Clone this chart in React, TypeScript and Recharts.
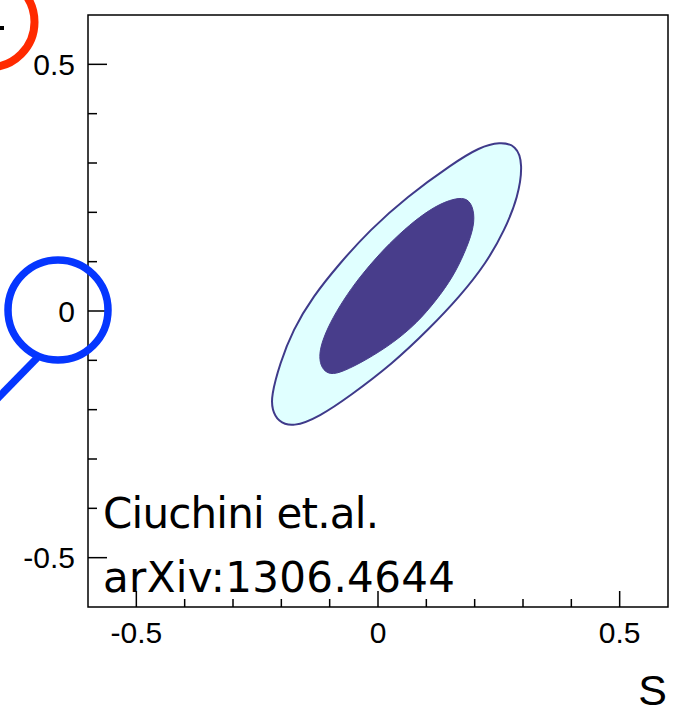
import React from "react"
import { ScatterChart, Scatter, XAxis, YAxis, ReferenceArea, Curve } from "recharts"

document.body.style.margin = "0"

// contour points (S, C), going round each region
const outerS = [-0.221, -0.203, -0.176, -0.135, -0.079, -0.017, 0.059, 0.155, 0.21, 0.252, 0.286, 0.3, 0.29, 0.262, 0.224, 0.169, 0.104, 0.031, -0.059, -0.121, -0.176, -0.207, -0.219]
const outerC = [-0.173, -0.106, -0.038, 0.029, 0.097, 0.164, 0.231, 0.299, 0.332, 0.343, 0.336, 0.299, 0.231, 0.164, 0.097, 0.029, -0.038, -0.106, -0.173, -0.214, -0.236, -0.224, -0.2]

const innerS = [0.169, 0.19, 0.2, 0.197, 0.179, 0.155, 0.121, 0.08, 0.031, -0.024, -0.072, -0.1, -0.117, -0.122, -0.117, -0.1, -0.072, -0.038, 0.004, 0.045, 0.086, 0.128]
const innerC = [0.231, 0.225, 0.198, 0.164, 0.117, 0.069, 0.022, -0.025, -0.065, -0.099, -0.123, -0.13, -0.116, -0.093, -0.065, -0.025, 0.022, 0.069, 0.117, 0.157, 0.191, 0.218]

const xTicks = [-0.5, -0.4, -0.3, -0.2, -0.1, 0, 0.1, 0.2, 0.3, 0.4, 0.5]
const yTicks = [-0.5, -0.4, -0.3, -0.2, -0.1, 0, 0.1, 0.2, 0.3, 0.4, 0.5]
const majorTicks = [-0.5, 0, 0.5]

const citeLines = ["Ciuchini et.al.", "arXiv:1306.4644"]
const citeWidths = [276, 352]
const xTitle = "S"

const outerData = outerS.map((s, i) => ({ s, c: outerC[i] }))
const innerData = innerS.map((s, i) => ({ s, c: innerC[i] }))

const fmt = (v: number) => (v === 0 ? "0" : String(v))
const labelFont = "'Liberation Sans', Arial, Helvetica, sans-serif"

const XTick = (props: any) => {
  const { x, y, payload } = props
  const major = majorTicks.includes(payload.value)
  return (
    <g>
      <line x1={x} x2={x} y1={y} y2={y - (major ? 16 : 8)} stroke="#000" strokeWidth={1.5} />
      {major && (
        <text x={x} y={y + 36} textAnchor="middle" fontSize={30} fontFamily={labelFont} fill="#000">
          {fmt(payload.value)}
        </text>
      )}
    </g>
  )
}

const YTick = (props: any) => {
  const { x, y, payload } = props
  const major = majorTicks.includes(payload.value)
  return (
    <g>
      <line x1={x} x2={x + (major ? 19 : 9)} y1={y} y2={y} stroke="#000" strokeWidth={1.5} />
      {major && (
        <text x={x - 13} y={y} dy="0.36em" textAnchor="end" fontSize={30} fontFamily={labelFont} fill="#000">
          {fmt(payload.value)}
        </text>
      )}
    </g>
  )
}

const NoDot = () => <g />

export default function App() {
  return (
    <div style={{ position: "relative", width: 684, height: 717, background: "#fff" }}>
      <ScatterChart width={684} height={717} margin={{ top: 15, right: 16, bottom: 0, left: 0 }}>
        <XAxis
          type="number"
          dataKey="s"
          domain={[-0.6, 0.6]}
          ticks={xTicks}
          interval={0}
          height={110}
          axisLine={false}
          tickLine={false}
          tickSize={0}
          tickMargin={0}
          tick={<XTick />}
        />
        <YAxis
          type="number"
          dataKey="c"
          domain={[-0.6, 0.6]}
          ticks={yTicks}
          interval={0}
          width={88}
          axisLine={false}
          tickLine={false}
          tickSize={0}
          tickMargin={0}
          tick={<YTick />}
        />
        <Scatter
          data={outerData}
          isAnimationActive={false}
          shape={NoDot}
          line={(p: any) => (
            <Curve points={p.points} type="basisClosed" fill="#e0ffff" stroke="#3f3a8a" strokeWidth={2} />
          )}
        />
        <Scatter
          data={innerData}
          isAnimationActive={false}
          shape={NoDot}
          line={(p: any) => (
            <Curve points={p.points} type="basisClosed" fill="#483d8b" stroke="#483d8b" strokeWidth={1} />
          )}
        />
        <ReferenceArea x1={-0.6} x2={0.6} y1={-0.6} y2={0.6} fill="none" stroke="#000" strokeWidth={1.5} />
      </ScatterChart>
      <svg
        width={684}
        height={717}
        style={{ position: "absolute", left: 0, top: 0, pointerEvents: "none", overflow: "hidden" }}
      >
        <circle cx={-11} cy={22} r={45.5} fill="none" stroke="#ff2a00" strokeWidth={8} />
        <rect x={0} y={26} width={4} height={4} fill="#000" />
        <circle cx={58} cy={310} r={50} fill="none" stroke="#0536ff" strokeWidth={7.5} />
        <line x1={37} y1={358} x2={-5} y2={401} stroke="#0536ff" strokeWidth={7.5} />
        {citeLines.map((t, i) => (
          <text
            key={t}
            x={103}
            y={528 + i * 64}
            fontSize={42}
            textLength={citeWidths[i]}
            lengthAdjust="spacing"
            fontFamily="'DejaVu Sans', sans-serif"
            fill="#000"
          >
            {t}
          </text>
        ))}
        <text x={667} y={705} textAnchor="end" fontSize={43} fontFamily={labelFont} fill="#000">
          {xTitle}
        </text>
      </svg>
    </div>
  )
}
